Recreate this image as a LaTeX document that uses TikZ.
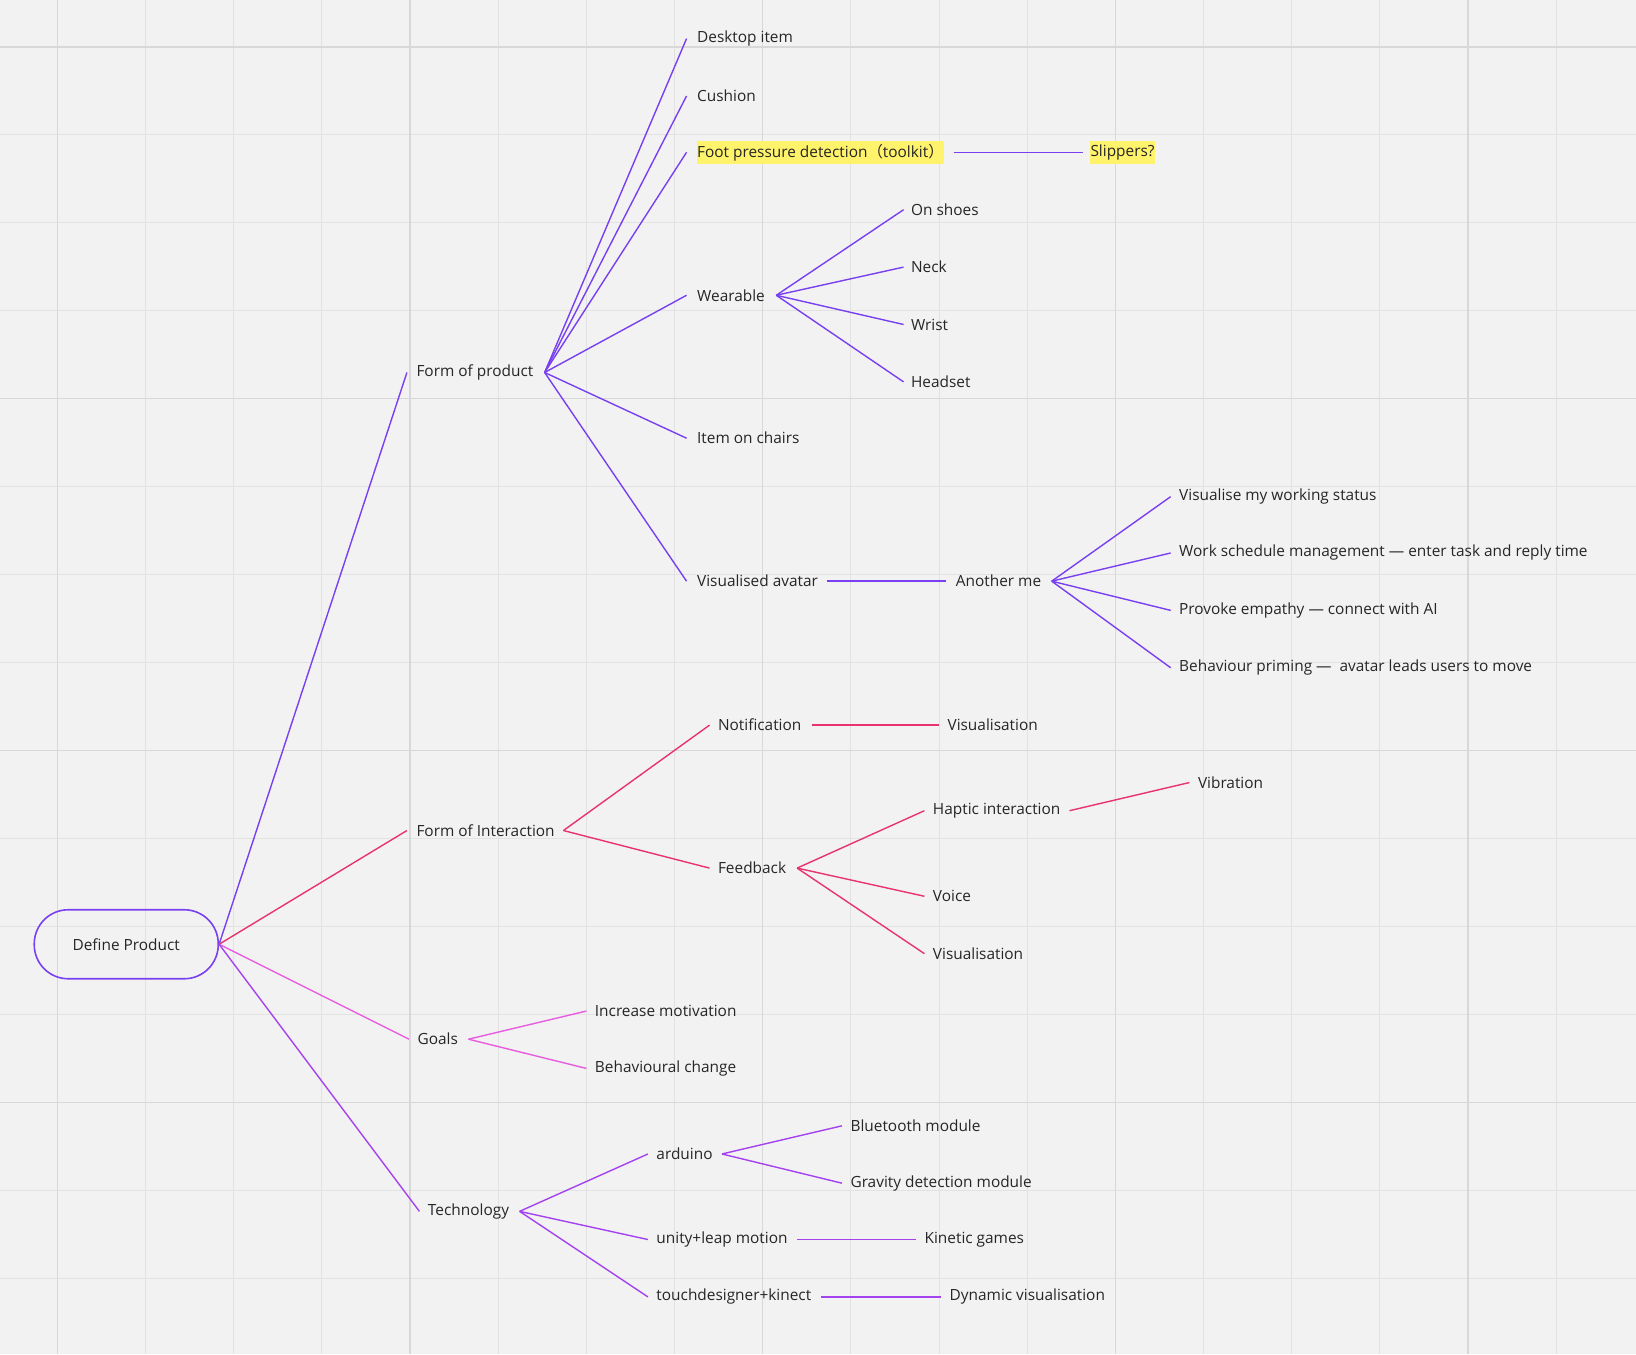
\documentclass[tikz,border=0pt]{standalone}
\usepackage{fontspec}
\setmainfont{Open Sans}
\newfontfamily\cjk{Noto Sans CJK SC}
\usetikzlibrary{calc}
\begin{document}
\begin{tikzpicture}[x=1.0434pt,y=-1.0434pt,
  t/.style={anchor=west,inner sep=0pt,font=\fontsize{15.4}{17}\selectfont,text=black!85},
  cp/.style={draw=cP,line width=1.4pt},
  ci/.style={draw=cI,line width=1.4pt},
  cg/.style={draw=cG,line width=1.4pt},
  ct/.style={draw=cT,line width=1.4pt}]
\definecolor{cP}{HTML}{7840F0}
\definecolor{cI}{HTML}{E8336E}
\definecolor{cG}{HTML}{E85CE0}
\definecolor{cT}{HTML}{A442F0}
\definecolor{bg}{HTML}{F2F2F2}
\definecolor{gl}{HTML}{E2E2E2}
\definecolor{gd}{HTML}{D8D8D8}
\definecolor{hl}{HTML}{FFF36B}
\newcommand\cv[3]{\draw[#1] (#2) .. controls ($(#2)!0.5!(#3)$ |- #2) and ($(#2)!0.5!(#3)$ |- #3) .. (#3);}
\fill[bg] (0,0) rectangle (1568,1298);
\useasboundingbox (0,0) rectangle (1568,1298);
\foreach \i in {0,...,17}{\pgfmathsetmacro\xx{55+84.5*\i}
  \draw[gl,line width=1pt] (\xx,0) -- (\xx,1298);}
\foreach \i in {0,...,14}{\pgfmathsetmacro\yy{45+84.3*\i}
  \draw[gl,line width=1pt] (0,\yy) -- (1568,\yy);}
\foreach \i in {0,4,8,12,16}{\pgfmathsetmacro\xx{55+84.5*\i}
  \draw[gd,line width=1.2pt] (\xx,0) -- (\xx,1298);}
\foreach \i in {0,4,8,12}{\pgfmathsetmacro\yy{45+84.3*\i}
  \draw[gd,line width=1.2pt] (0,\yy) -- (1568,\yy);}

\node[draw=cP,line width=1.6pt,rounded corners=34pt,minimum width=184pt,minimum height=69pt,font=\fontsize{15.4}{17}\selectfont,text=black!85] (root) at (121,905) {Define Product};
\coordinate (r) at (210,905);

\node[t] (fp) at (399,357) {Form of product};
\node[t] (fi) at (399,796) {Form of Interaction};
\node[t] (go) at (400,996) {Goals};
\node[t] (te) at (410,1161) {Technology};
\coordinate (fpi) at (390,357);\cv{cp}{r}{fpi}
\coordinate (fii) at (390,796);\cv{ci}{r}{fii}
\coordinate (goi) at (392,996);\cv{cg}{r}{goi}
\coordinate (tei) at (402,1161);\cv{ct}{r}{tei}

% Form of product
\coordinate (fpo) at (522,357);
\foreach \n/\y/\s in {a/37/Desktop item,b/92/Cushion,c/146/{},d/283/Wearable,e/420/Item on chairs,f/557/Visualised avatar}{
  \coordinate (fpi\n) at (658,\y);\cv{cp}{fpo}{fpi\n}
  \node[t] (fp\n) at (668,\y) {\s};}
\fill[hl] (668,135) rectangle (905,157);
\node[t] (fpc) at (668,146) {Foot pressure detection{\cjk （}toolkit{\cjk ）}};
\fill[hl] (1045,135) rectangle (1107,157);
\node[t] (sl) at (1045,146) {Slippers?};
\draw[cp] (914,146) coordinate (sa) -- (1038,146) coordinate (sb);
\coordinate (wo) at (744,283);
\foreach \n/\y/\s in {a/201/On shoes,b/256/Neck,c/311/Wrist,d/366/Headset}{
  \coordinate (wi\n) at (866,\y);\cv{cp}{wo}{wi\n}
  \node[t] (w\n) at (873,\y) {\s};}
\node[t] (am) at (916,557) {Another me};
\draw[cp] (793,557) coordinate (va) -- (907,557) coordinate (vb);
\coordinate (ao) at (1008,557);
\foreach \n/\y/\s in {a/476/Visualise my working status,b/530/Work schedule management — enter task and reply time,c/585/Provoke empathy — connect with AI,d/640/Behaviour priming —\ \ avatar leads users to move}{
  \coordinate (ai\n) at (1122,\y);\cv{cp}{ao}{ai\n}
  \node[t] (am\n) at (1130,\y) {\s};}

% Interaction
\coordinate (fio) at (540,796);
\node[t] (no) at (688,695) {Notification};
\node[t] (fb) at (688,832) {Feedback};
\coordinate (noi) at (680,695);\cv{ci}{fio}{noi}
\coordinate (fbi) at (680,832);\cv{ci}{fio}{fbi}
\node[t] (nv) at (908,695) {Visualisation};
\draw[ci] (778,695) coordinate (na) -- (900,695) coordinate (nb);
\coordinate (fbo) at (764,832);
\foreach \n/\y/\s in {a/777/Haptic interaction,b/859/Voice,c/914/Visualisation}{
  \coordinate (fbi\n) at (886,\y);\cv{ci}{fbo}{fbi\n}
  \node[t] (fb\n) at (894,\y) {\s};}
\node[t] (vi) at (1148,750) {Vibration};
\coordinate (ha) at (1025,777);\coordinate (hb) at (1140,750);\cv{ci}{ha}{hb}

% Goals
\coordinate (goo) at (449,996);
\foreach \n/\y/\s in {a/969/Increase motivation,b/1024/Behavioural change}{
  \coordinate (gi\n) at (562,\y);\cv{cg}{goo}{gi\n}
  \node[t] (g\n) at (570,\y) {\s};}

% Technology
\coordinate (teo) at (498,1161);
\foreach \n/\y/\s in {a/1106/arduino,b/1188/unity+leap motion,c/1243/touchdesigner+kinect}{
  \coordinate (ti\n) at (621,\y);\cv{ct}{teo}{ti\n}
  \node[t] (t\n) at (629,\y) {\s};}
\coordinate (aro) at (692,1106);
\foreach \n/\y/\s in {a/1079/Bluetooth module,b/1134/Gravity detection module}{
  \coordinate (ari\n) at (807,\y);\cv{ct}{aro}{ari\n}
  \node[t] (ar\n) at (815,\y) {\s};}
\node[t] (kg) at (886,1188) {Kinetic games};
\draw[ct] (764,1188) coordinate (ua) -- (878,1188) coordinate (ub);
\node[t] (dv) at (910,1243) {Dynamic visualisation};
\draw[ct] (787,1243) coordinate (tda) -- (902,1243) coordinate (tdb);
\end{tikzpicture}
\end{document}
